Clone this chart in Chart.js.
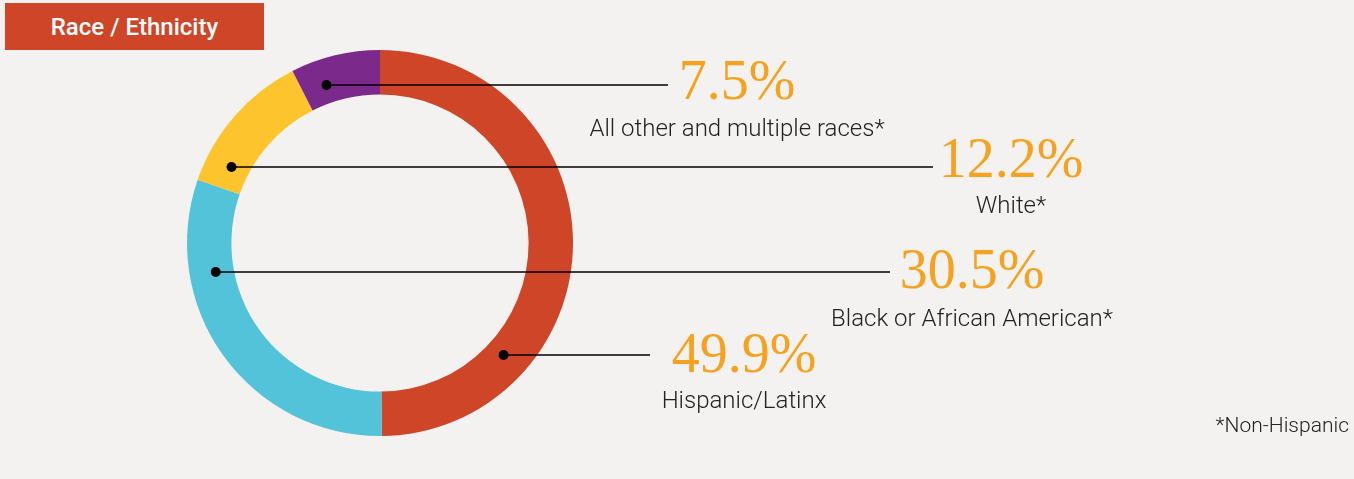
<!DOCTYPE html>
<html>
<head>
<meta charset="utf-8">
<script src="https://cdn.jsdelivr.net/npm/chart.js@4.4.1/dist/chart.umd.min.js"></script>
<style>
  html, body { margin: 0; padding: 0; }
  body { width: 1354px; height: 479px; overflow: hidden; background: #f3f2f0; position: relative; font-family: Roboto, "Noto Sans", sans-serif; }
  #chart { position: absolute; left: 0; top: 0; }
  .header { position: absolute; left: 5px; top: 3px; width: 259px; height: 47px; background: #cf4527; color: #fff;
    font: 500 24px Roboto, sans-serif; line-height: 49px; text-align: center; }
  .pct { position: absolute; font: 400 56px "Liberation Serif", "DejaVu Serif", serif; line-height: 56px; color: #f6a21e;
    white-space: nowrap; transform: translateX(-50%); }
  .lbl { position: absolute; font: 300 24px Roboto, sans-serif; line-height: 24px; color: #222; white-space: nowrap; transform: translateX(-50%); }
  .note { position: absolute; right: 5px; top: 415px; font: 300 21px Roboto, sans-serif; line-height: 21px; color: #222; }
</style>
</head>
<body>
<canvas id="chart" width="1354" height="479"></canvas>
<div class="header">Race / Ethnicity</div>
<div class="note">*Non-Hispanic</div>
<script>
// data, in drawing order (clockwise from the top)
const categories = ['Hispanic/Latinx', 'Black or African American*', 'White*', 'All other and multiple races*'];
const shares = [49.9, 30.5, 12.2, 7.5];
const colors = ['#cf4527', '#52c3d9', '#fec42d', '#7b2a8c'];

// callout layout (label centre x, baselines, leader line y and end x)
const labelX = [744, 972, 1011, 737];
const pctBaseline = [372, 288, 177, 99];
const lblBaseline = [408, 326, 213, 136];
const leaderY = [355, 272, 167, 85];
const leaderEnd = [650, 890, 933, 668];

// labels as html text
categories.forEach((name, i) => {
  const p = document.createElement('div');
  p.className = 'pct';
  p.textContent = shares[i].toFixed(1) + '%';
  p.style.left = labelX[i] + 'px';
  p.style.top = (pctBaseline[i] - 46.9) + 'px';
  document.body.appendChild(p);

  const l = document.createElement('div');
  l.className = 'lbl';
  l.textContent = name;
  l.style.left = labelX[i] + 'px';
  l.style.top = (lblBaseline[i] - 20.2) + 'px';
  document.body.appendChild(l);
});

// leader lines: dot sits where the line crosses the middle of the ring
const leaders = {
  id: 'leaders',
  afterDatasetsDraw(chart) {
    const { ctx } = chart;
    const arcs = chart.getDatasetMeta(0).data;
    arcs.forEach((arc, i) => {
      const { x, y, innerRadius, outerRadius, startAngle, endAngle } = arc.getProps(['x', 'y', 'innerRadius', 'outerRadius', 'startAngle', 'endAngle'], true);
      const r = (innerRadius + outerRadius) / 2 - 4;
      const dy = leaderY[i] - y;
      const mid = (startAngle + endAngle) / 2;
      const side = Math.cos(mid) >= 0 ? 1 : -1;
      const dx = Math.sqrt(Math.max(r * r - dy * dy, 0)) * side;
      const px = x + dx;
      ctx.save();
      ctx.strokeStyle = '#000';
      ctx.lineWidth = 1.6;
      ctx.beginPath();
      ctx.moveTo(px, leaderY[i]);
      ctx.lineTo(leaderEnd[i], leaderY[i]);
      ctx.stroke();
      ctx.fillStyle = '#000';
      ctx.beginPath();
      ctx.arc(px, leaderY[i], 5, 0, Math.PI * 2);
      ctx.fill();
      ctx.restore();
    });
  }
};

new Chart(document.getElementById('chart'), {
  type: 'doughnut',
  data: {
    labels: categories,
    datasets: [{
      data: shares,
      backgroundColor: colors,
      borderWidth: 0
    }]
  },
  options: {
    responsive: false,
    devicePixelRatio: 1,
    animation: false,
    cutout: '77%',
    layout: { padding: { left: 187, top: 50, right: 781, bottom: 43 } },
    plugins: {
      legend: { display: false },
      tooltip: { enabled: false }
    }
  },
  plugins: [leaders]
});
</script>
</body>
</html>
